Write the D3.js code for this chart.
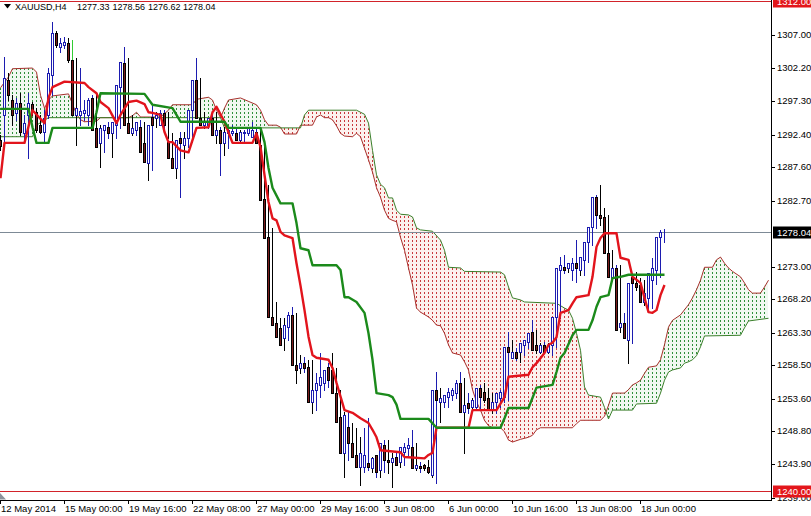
<!DOCTYPE html>
<html>
<head>
<meta charset="utf-8">
<script src="https://cdn.jsdelivr.net/npm/d3@7"></script>
<style>
    body { margin: 0; background: #fff; }
    svg text { font-family: "Liberation Sans", Arial, sans-serif; font-size: 9.5px; fill: #000; }
</style>
</head>
<body>
<div id="chart-area"></div>
<script>

// XAUUSD H4 candles, one per bar: [open, high, low, close]
const ohlc = [
    [1291.6,1292.4,1290.1,1290.7],[1295.3,1303.8,1291.2,1300.7],[1300.4,1301.5,1297.5,1298.2],[1297.5,1298.2,1293.8,1295.3],
    [1295.6,1297.8,1294.6,1297.1],[1297.1,1298.5,1292.4,1292.8],[1292.6,1295.3,1291.2,1294.1],[1295.3,1298.5,1289.0,1297.1],
    [1296.9,1297.2,1295.3,1296.0],[1295.7,1296.3,1292.8,1293.1],[1293.8,1295.3,1292.6,1292.8],[1292.8,1296.0,1291.3,1294.9],
    [1295.3,1302.2,1294.9,1301.5],[1301.2,1309.0,1298.2,1307.3],[1307.3,1307.6,1305.3,1305.6],[1305.3,1306.6,1304.6,1305.9],
    [1305.6,1306.8,1305.1,1306.0],[1305.9,1306.6,1303.1,1303.4],[1304.1,1306.3,1301.5,1304.1],[1303.4,1303.7,1290.9,1295.3],
    [1295.3,1302.2,1293.8,1296.3],[1295.3,1297.5,1294.6,1295.9],[1295.6,1297.8,1293.8,1296.0],[1295.3,1298.2,1293.8,1297.5],
    [1297.8,1298.2,1290.6,1293.1],[1293.4,1293.8,1287.6,1290.6],[1291.2,1293.8,1289.8,1293.4],[1293.1,1294.3,1291.9,1293.8],
    [1293.5,1294.1,1289.1,1292.6],[1292.6,1295.3,1291.9,1294.3],[1293.8,1300.4,1293.4,1299.7],[1299.4,1305.3,1299.0,1303.1],
    [1302.9,1303.7,1293.4,1293.8],[1294.1,1295.3,1292.4,1292.6],[1292.6,1294.3,1292.4,1293.4],[1293.1,1294.6,1290.9,1294.3],
    [1293.5,1294.3,1288.4,1289.8],[1291.2,1291.9,1285.7,1288.4],[1288.2,1296.8,1287.2,1293.8],[1295.0,1295.7,1293.5,1293.8],
    [1294.9,1296.0,1294.3,1295.3],[1293.8,1296.0,1293.4,1295.6],[1295.6,1295.7,1291.9,1293.8],[1291.3,1292.6,1288.4,1289.0],
    [1289.0,1290.4,1286.0,1287.5],[1287.5,1292.8,1283.2,1291.6],[1291.9,1292.8,1289.0,1291.2],[1290.9,1292.8,1290.6,1291.9],
    [1291.9,1296.3,1291.3,1296.0],[1296.0,1303.7,1295.3,1300.4],[1300.4,1300.7,1294.3,1294.9],[1294.9,1295.7,1293.4,1293.8],
    [1293.8,1294.9,1293.4,1294.3],[1293.8,1295.3,1293.4,1294.9],[1294.9,1295.7,1291.2,1292.4],[1292.4,1293.5,1286.5,1293.1],
    [1293.1,1293.5,1289.4,1291.2],[1291.2,1293.4,1290.4,1292.8],[1292.6,1293.8,1292.4,1293.1],[1292.6,1293.6,1292.3,1293.0],
    [1292.6,1293.1,1291.3,1291.6],[1291.6,1293.1,1291.3,1292.8],[1292.6,1293.1,1292.4,1292.8],[1292.6,1294.3,1292.4,1293.5],
    [1292.1,1293.4,1291.3,1293.1],[1292.8,1293.4,1290.4,1291.2],[1290.9,1291.3,1281.3,1282.8],[1283.0,1285.0,1273.7,1277.2],
    [1277.3,1278.7,1265.4,1265.6],[1265.6,1267.8,1264.0,1264.4],[1264.7,1265.4,1262.2,1262.6],[1264.0,1265.4,1260.7,1261.5],
    [1262.5,1266.3,1262.2,1264.4],[1264.1,1267.1,1263.7,1265.9],[1265.9,1266.2,1255.9,1258.5],[1258.5,1260.0,1257.3,1257.8],
    [1258.1,1259.7,1257.5,1258.8],[1258.8,1259.3,1257.8,1258.1],[1258.2,1259.3,1251.5,1253.1],[1253.1,1257.3,1251.9,1254.9],
    [1254.9,1260.3,1253.8,1255.9],[1255.6,1257.8,1254.9,1256.8],[1255.9,1258.8,1255.3,1257.8],[1258.2,1260.3,1255.3,1256.3],
    [1257.8,1258.1,1253.7,1254.4],[1254.4,1254.9,1250.0,1250.1],[1250.9,1251.6,1242.1,1245.6],[1245.6,1251.6,1244.6,1251.2],
    [1249.4,1250.0,1246.5,1247.1],[1247.1,1249.3,1243.5,1245.0],[1245.3,1247.9,1240.9,1243.5],[1243.5,1249.3,1242.8,1245.6],
    [1243.5,1250.7,1243.1,1245.3],[1244.1,1245.0,1242.8,1243.5],[1243.4,1245.3,1242.1,1244.8],[1245.3,1245.6,1242.1,1242.8],
    [1243.1,1247.5,1242.8,1247.1],[1246.8,1247.5,1242.6,1244.6],[1244.6,1245.6,1240.6,1244.3],[1244.3,1245.6,1244.1,1244.8],
    [1245.0,1245.3,1243.5,1243.8],[1244.3,1247.1,1243.8,1246.5],[1245.8,1247.8,1245.3,1246.5],[1246.3,1249.0,1245.6,1246.8],
    [1246.5,1247.1,1243.1,1243.4],[1243.4,1244.3,1242.8,1243.8],[1243.7,1244.0,1243.1,1243.4],[1243.8,1244.6,1242.6,1243.4],
    [1243.5,1244.1,1242.1,1242.8],[1242.4,1257.5,1241.2,1254.9],[1254.9,1255.2,1250.1,1253.4],[1253.1,1254.1,1252.4,1253.7],
    [1253.1,1255.2,1252.4,1254.1],[1253.8,1255.2,1253.4,1254.6],[1254.1,1256.3,1253.7,1254.9],[1254.4,1257.5,1253.8,1255.9],
    [1255.9,1256.6,1245.6,1251.6],[1251.6,1254.4,1251.5,1252.7],[1253.0,1253.7,1251.9,1252.2],[1252.4,1254.9,1251.9,1253.4],
    [1252.4,1255.6,1251.9,1255.2],[1255.2,1255.9,1253.1,1253.8],[1254.6,1255.2,1252.7,1253.4],[1253.7,1254.4,1251.5,1251.9],
    [1251.9,1253.4,1251.5,1253.1],[1253.1,1254.9,1252.4,1254.4],[1253.7,1255.2,1253.1,1254.6],[1253.8,1263.4,1253.4,1261.2],
    [1261.2,1262.2,1259.7,1260.4],[1259.6,1261.0,1259.3,1260.4],[1260.4,1260.7,1259.0,1259.6],[1260.4,1262.2,1260.0,1261.8],
    [1261.5,1262.6,1261.0,1262.2],[1261.9,1265.1,1261.8,1263.2],[1263.4,1263.7,1260.3,1260.7],[1261.5,1261.8,1260.3,1260.7],
    [1260.4,1261.9,1260.3,1261.5],[1261.5,1261.8,1260.3,1260.4],[1260.4,1261.8,1260.0,1261.5],[1261.5,1266.3,1261.2,1265.6],
    [1265.6,1274.4,1265.4,1272.8],[1272.5,1274.7,1272.1,1273.2],[1272.9,1273.5,1272.2,1272.5],[1272.8,1274.3,1271.0,1273.5],
    [1272.5,1276.9,1270.7,1273.5],[1273.5,1273.7,1271.8,1272.8],[1272.5,1275.0,1271.8,1274.4],[1274.0,1277.6,1273.7,1276.6],
    [1276.6,1279.4,1276.2,1278.8],[1278.8,1283.5,1278.7,1283.2],[1283.2,1285.0,1279.1,1280.6],[1280.6,1281.6,1279.1,1280.1],
    [1280.3,1280.6,1272.2,1275.0],[1275.0,1275.4,1271.0,1271.5],[1271.3,1273.2,1271.0,1272.8],[1272.8,1273.2,1263.4,1263.7],
    [1264.1,1266.2,1263.7,1264.7],[1264.7,1266.6,1258.8,1262.5],[1262.2,1270.7,1261.8,1270.6],[1271.5,1272.2,1269.6,1270.6],
    [1270.6,1271.3,1269.3,1270.0],[1270.3,1271.0,1267.4,1267.8],[1267.8,1270.6,1266.6,1269.1],[1268.4,1274.3,1266.9,1272.1],
    [1271.0,1273.2,1270.4,1272.8],[1272.5,1278.4,1271.5,1277.3],[1277.33,1278.56,1276.62,1278.04]
];

// indicator lines as [bar, price] vertices
const tenkan = [[0,1286.0],[1,1291.2],[6,1291.2],[8,1296.0],[11,1294.1],[12,1297.8],[13,1299.4],[16,1300.2],[21,1300.0],[22,1299.4],
    [24,1298.5],[25,1297.2],[27,1296.3],[29,1294.1],[30,1295.3],[32,1297.2],[34,1297.4],[36,1296.9],[37,1295.7],[38,1295.6],
    [40,1295.3],[41,1292.8],[42,1291.3],[43,1291.3],[45,1290.1],[47,1289.8],[49,1293.4],[52,1293.5],[53,1295.7],[54,1296.5],
    [56,1294.3],[58,1291.2],[63,1291.2],[64,1292.6],[65,1290.6],[66,1286.5],[67,1282.5],[68,1280.1],[69,1279.8],[70,1278.1],
    [71,1277.6],[73,1277.2],[74,1273.5],[75,1270.2],[76,1266.6],[77,1262.7],[78,1260.0],[79,1259.6],[82,1259.3],[83,1258.1],
    [84,1255.9],[86,1251.9],[88,1251.5],[90,1250.7],[92,1250.0],[93,1249.0],[94,1247.9],[95,1246.0],[100,1245.7],[101,1245.0],
    [106,1244.8],[107,1245.3],[108,1245.6],[109,1249.3],[117,1249.3],[118,1251.9],[124,1251.9],[126,1253.8],[127,1256.8],[132,1257.1],
    [133,1258.2],[134,1258.8],[136,1260.3],[137,1261.5],[138,1261.8],[139,1262.6],[140,1266.2],[142,1266.6],[143,1267.6],[144,1268.5],
    [147,1268.8],[148,1271.5],[149,1275.9],[150,1277.2],[151,1277.9],[154,1277.9],[155,1274.3],[157,1274.0],[158,1271.5],[160,1270.6],
    [161,1268.4],[162,1266.3],[163,1266.2],[164,1266.6],[165,1268.8],[166,1270.3]];

const kijun = [[0,1296.2],[7,1296.2],[8,1293.5],[9,1291.2],[12,1291.2],[13,1293.4],[23,1293.4],[24,1295.7],[25,1298.5],[36,1298.4],
    [38,1296.8],[43,1296.3],[44,1295.3],[45,1294.3],[56,1294.3],[57,1293.4],[65,1293.4],[66,1291.3],[67,1287.5],[68,1284.6],
    [70,1282.3],[73,1282.3],[74,1279.4],[75,1275.7],[77,1275.4],[78,1273.2],[84,1273.2],[85,1272.5],[86,1268.5],[87,1268.5],
    [89,1267.8],[91,1266.2],[92,1263.2],[93,1259.3],[94,1254.4],[97,1254.1],[98,1253.8],[99,1252.7],[100,1250.6],[107,1250.6],
    [109,1249.3],[125,1249.3],[126,1250.7],[127,1252.2],[132,1252.2],[134,1255.2],[138,1255.6],[139,1257.5],[140,1259.6],[141,1260.3],
    [143,1262.9],[144,1263.7],[147,1263.7],[148,1265.1],[149,1267.1],[150,1268.5],[152,1268.8],[153,1271.3],[155,1271.5],[157,1271.8],
    [166,1271.8]];

// cloud edges, already shifted 26 bars forward
const spanA = [[0,1299.3],[2,1300.9],[3,1302.1],[8,1302.2],[9,1301.6],[10,1298.2],[11,1296.3],[12,1297.5],[13,1298.1],[17,1298.4],
    [18,1296.9],[19,1295.4],[20,1294.6],[21,1294.3],[24,1294.4],[25,1294.9],[32,1294.9],[33,1295.2],[34,1295.7],[35,1295.0],
    [40,1295.0],[42,1296.0],[43,1296.8],[48,1296.8],[49,1297.6],[52,1297.9],[53,1297.5],[54,1296.0],[55,1294.9],[56,1296.3],
    [57,1297.5],[60,1297.8],[62,1297.3],[64,1296.8],[65,1296.0],[66,1294.6],[67,1293.8],[69,1293.8],[70,1293.5],[71,1292.5],
    [74,1292.5],[75,1293.8],[78,1293.8],[79,1295.0],[80,1295.3],[81,1294.9],[82,1294.9],[83,1294.6],[84,1293.7],[85,1292.6],
    [86,1292.2],[88,1292.1],[89,1292.6],[90,1292.1],[91,1290.4],[92,1288.7],[93,1286.9],[94,1284.6],[95,1283.2],[96,1281.3],
    [97,1280.1],[98,1279.8],[99,1279.6],[100,1277.3],[101,1275.4],[102,1272.8],[103,1270.3],[104,1266.9],[105,1266.3],[107,1265.6],
    [108,1265.1],[109,1264.4],[110,1264.3],[111,1263.2],[112,1261.5],[113,1260.3],[115,1260.0],[116,1259.0],[117,1257.8],[118,1254.9],
    [119,1253.1],[120,1251.9],[121,1250.4],[122,1249.6],[123,1249.3],[125,1249.3],[126,1248.7],[127,1247.5],[128,1247.2],[130,1247.6],
    [132,1247.9],[133,1248.2],[134,1249.0],[135,1249.3],[143,1249.3],[144,1249.9],[145,1250.4],[150,1250.4],[151,1251.0],[152,1252.6],
    [153,1254.4],[156,1254.4],[157,1254.9],[158,1255.6],[159,1255.9],[160,1256.3],[161,1257.3],[162,1258.2],[164,1258.4],[165,1259.3],
    [166,1261.5],[167,1264.1],[168,1265.1],[170,1265.9],[172,1267.4],[173,1268.4],[174,1269.6],[175,1271.0],[176,1272.9],[178,1272.9],
    [179,1274.0],[180,1274.4],[181,1273.5],[182,1272.8],[183,1272.3],[185,1271.5],[186,1270.6],[187,1269.6],[188,1269.1],[190,1269.1],
    [191,1270.0],[192,1271.0]];

const spanB = [[0,1292.1],[8,1292.1],[9,1293.8],[12,1294.9],[55,1294.9],[56,1293.4],[75,1293.4],[76,1295.3],[77,1296.0],[89,1296.0],
    [90,1295.7],[91,1295.4],[92,1294.1],[93,1290.1],[94,1286.5],[95,1285.1],[96,1284.6],[97,1283.1],[98,1283.1],[99,1281.3],
    [100,1280.7],[102,1280.6],[103,1280.3],[104,1278.7],[105,1278.4],[108,1278.2],[110,1276.9],[111,1275.4],[112,1272.9],[115,1272.8],
    [116,1272.3],[125,1272.2],[126,1271.8],[127,1270.0],[128,1268.4],[130,1268.1],[131,1267.8],[139,1267.6],[141,1266.9],[142,1266.6],
    [143,1265.4],[144,1263.2],[145,1260.7],[146,1255.3],[147,1254.1],[150,1253.8],[151,1252.3],[152,1250.6],[153,1251.9],[158,1251.9],
    [159,1252.8],[164,1252.9],[165,1254.4],[166,1256.3],[167,1257.5],[168,1257.8],[170,1258.1],[171,1258.8],[172,1259.0],[173,1259.3],
    [174,1259.9],[175,1261.2],[176,1262.8],[185,1262.9],[186,1264.0],[187,1265.0],[192,1265.4]];

const priceTicks = [1307.00, 1302.20, 1297.30, 1292.40, 1287.60, 1282.70, 1273.00, 1268.20, 1263.30, 1258.50, 1253.60, 1248.80, 1243.90, 1239.00];
const timeLabels = ["12 May 2014", "15 May 00:00", "19 May 16:00", "22 May 08:00", "27 May 00:00", "29 May 16:00",
    "3 Jun 08:00", "6 Jun 00:00", "10 Jun 16:00", "13 Jun 08:00", "18 Jun 00:00"];
const levelLines = [1312.00, 1240.00];
const bidPrice = 1278.04;
const titleParts = ["XAUUSD,H4", "1277.33", "1278.56", "1276.62", "1278.04"];


class IchimokuChart {

    constructor(parentElement) {
        this.parentElement = parentElement;
        this.initVis();
    }

    initVis() {
        let vis = this;

        vis.width = 811;
        vis.height = 516;
        vis.plotRight = 771;
        vis.plotBottom = 500;

        vis.svg = d3.select("#" + vis.parentElement).append("svg")
            .attr("width", vis.width)
            .attr("height", vis.height);

        vis.svg.append("rect").attr("width", vis.width).attr("height", vis.height).attr("fill", "#fff");

        // 4 px per bar, bar 192 = last shifted cloud bar
        vis.x = d3.scaleLinear().domain([0, 192]).range([0, 768]);
        vis.y = d3.scaleLinear().domain([1240, 1312]).range([491, 1.4]);

        let defs = vis.svg.append("defs");

        defs.append("clipPath").attr("id", "plotClip")
            .append("rect").attr("width", vis.plotRight).attr("height", vis.plotBottom);

        // dotted hatch, one column per bar
        [["hatchRed", "#c8383c", "#fcf1ee"], ["hatchGreen", "#2f8f3a", "#f1f8f1"]].forEach(h => {
            let p = defs.append("pattern").attr("id", h[0])
                .attr("patternUnits", "userSpaceOnUse")
                .attr("width", 4).attr("height", 4);
            p.append("rect").attr("width", 4).attr("height", 4).attr("fill", h[2]);
            p.append("rect").attr("width", 1).attr("height", 2).attr("fill", h[1]);
        });

        let areaAbove = d3.area().x(d => vis.x(d[0])).y0(0).y1(d => vis.y(d[1]));
        let areaBelow = d3.area().x(d => vis.x(d[0])).y0(vis.plotBottom).y1(d => vis.y(d[1]));

        defs.append("clipPath").attr("id", "aboveA").append("path").attr("d", areaAbove(spanA));
        defs.append("clipPath").attr("id", "aboveB").append("path").attr("d", areaAbove(spanB));

        vis.plot = vis.svg.append("g").attr("clip-path", "url(#plotClip)");

        // red where span B is over span A, green otherwise
        vis.plot.append("path").attr("d", areaBelow(spanB))
            .attr("fill", "url(#hatchRed)").attr("clip-path", "url(#aboveA)");
        vis.plot.append("path").attr("d", areaBelow(spanA))
            .attr("fill", "url(#hatchGreen)").attr("clip-path", "url(#aboveB)");

        vis.thinLine = d3.line().x(d => vis.x(d[0]) + 0.5).y(d => vis.y(d[1]));

        vis.plot.append("path").attr("d", vis.thinLine(spanA))
            .attr("fill", "none").attr("stroke", "#a8302c").attr("stroke-width", 1);
        vis.plot.append("path").attr("d", vis.thinLine(spanB))
            .attr("fill", "none").attr("stroke", "#3a7f2a").attr("stroke-width", 1);

        vis.drawAxes();
        vis.updateVis();
    }

    drawAxes() {
        let vis = this;
        let crisp = v => Math.round(v) + 0.5;

        // horizontal levels and bid line
        vis.plot.selectAll(".level").data(levelLines).enter().append("line")
            .attr("x1", 0).attr("x2", vis.plotRight)
            .attr("y1", d => crisp(vis.y(d))).attr("y2", d => crisp(vis.y(d)))
            .attr("stroke", "#d2232a").attr("stroke-width", 1);

        vis.plot.append("line")
            .attr("x1", 0).attr("x2", vis.plotRight)
            .attr("y1", crisp(vis.y(bidPrice))).attr("y2", crisp(vis.y(bidPrice)))
            .attr("stroke", "#7d8a96").attr("stroke-width", 1);

        // frame
        vis.svg.append("line").attr("x1", vis.plotRight + 0.5).attr("x2", vis.plotRight + 0.5)
            .attr("y1", 0).attr("y2", vis.plotBottom + 1).attr("stroke", "#000");
        vis.svg.append("line").attr("x1", 0).attr("x2", vis.plotRight + 1)
            .attr("y1", vis.plotBottom + 0.5).attr("y2", vis.plotBottom + 0.5).attr("stroke", "#000");

        // price scale
        let py = vis.svg.append("g");
        py.selectAll("line").data(priceTicks).enter().append("line")
            .attr("x1", vis.plotRight).attr("x2", vis.plotRight + 4)
            .attr("y1", d => crisp(vis.y(d))).attr("y2", d => crisp(vis.y(d)))
            .attr("stroke", "#000");
        py.selectAll("text").data(priceTicks).enter().append("text")
            .attr("x", vis.plotRight + 6)
            .attr("y", d => vis.y(d) + 3)
            .text(d => d.toFixed(2));

        // boxed labels: levels red, bid black
        let boxes = levelLines.map(d => ({v: d, fill: "#e3161b"})).concat([{v: bidPrice, fill: "#000"}]);
        boxes.forEach(b => {
            let cy = vis.y(b.v);
            vis.svg.append("rect").attr("x", vis.plotRight + 2).attr("y", Math.round(cy) - 5.5)
                .attr("width", 40).attr("height", 12).attr("fill", b.fill);
            vis.svg.append("text").attr("x", vis.plotRight + 6).attr("y", cy + 4)
                .style("fill", "#fff").text(b.v.toFixed(2));
        });

        // time scale, a label every 16 bars
        let tx = vis.svg.append("g");
        tx.selectAll("line").data(timeLabels).enter().append("line")
            .attr("x1", (d, i) => crisp(vis.x(i * 16))).attr("x2", (d, i) => crisp(vis.x(i * 16)))
            .attr("y1", vis.plotBottom).attr("y2", vis.plotBottom + 4)
            .attr("stroke", "#000");
        tx.selectAll("text").data(timeLabels).enter().append("text")
            .attr("x", (d, i) => vis.x(i * 16) + 1)
            .attr("y", 512)
            .text(d => d);

        // scroll marker bottom-left
        vis.svg.append("path").attr("d", "M0,493L6,499.5L0,499.5Z").attr("fill", "#8c939c");

        // title
        vis.svg.append("path").attr("d", "M4,4L11,4L7.5,8.5Z").attr("fill", "#000");
        let titleX = [15, 77, 112.5, 148, 183];
        vis.svg.selectAll(".title").data(titleParts).enter().append("text")
            .attr("class", "title")
            .attr("x", (d, i) => titleX[i]).attr("y", 10)
            .style("font-size", "9px")
            .text(d => d);
    }

    updateVis() {
        let vis = this;

        let bars = vis.plot.append("g").selectAll(".bar")
            .data(ohlc).enter().append("g").attr("class", "bar");

        let colorOf = d => d[3] > d[0] ? "bull" : (d[3] < d[0] ? "bear" : "doji");

        bars.append("line")
            .attr("x1", (d, i) => Math.round(vis.x(i)) + 0.5)
            .attr("x2", (d, i) => Math.round(vis.x(i)) + 0.5)
            .attr("y1", d => Math.round(vis.y(d[1])))
            .attr("y2", d => Math.round(vis.y(d[2])) + 1)
            .attr("stroke", d => ({bull: "#1c1cb0", bear: "#000", doji: "#33cc33"})[colorOf(d)]);

        bars.filter(d => colorOf(d) !== "doji").append("rect")
            .attr("x", (d, i) => Math.round(vis.x(i)) - 0.5)
            .attr("y", d => Math.round(vis.y(Math.max(d[0], d[3]))) + 0.5)
            .attr("width", 2)
            .attr("height", d => Math.max(1, Math.round(vis.y(Math.min(d[0], d[3]))) - Math.round(vis.y(Math.max(d[0], d[3])))))
            .attr("fill", d => colorOf(d) === "bull" ? "#fff" : "#7a1c1c")
            .attr("stroke", d => colorOf(d) === "bull" ? "#1c1cb0" : "#000")
            .attr("stroke-width", 1);

        // tenkan-sen and kijun-sen on top
        let thick = d3.line().x(d => vis.x(d[0]) + 0.5).y(d => vis.y(d[1]));

        vis.plot.append("path").attr("d", thick(tenkan))
            .attr("fill", "none").attr("stroke", "#e2141c").attr("stroke-width", 2.4)
            .attr("stroke-linejoin", "round");
        vis.plot.append("path").attr("d", thick(kijun))
            .attr("fill", "none").attr("stroke", "#1b8a1b").attr("stroke-width", 2.4)
            .attr("stroke-linejoin", "round");
    }
}

let chart = new IchimokuChart("chart-area");

</script>
</body>
</html>
